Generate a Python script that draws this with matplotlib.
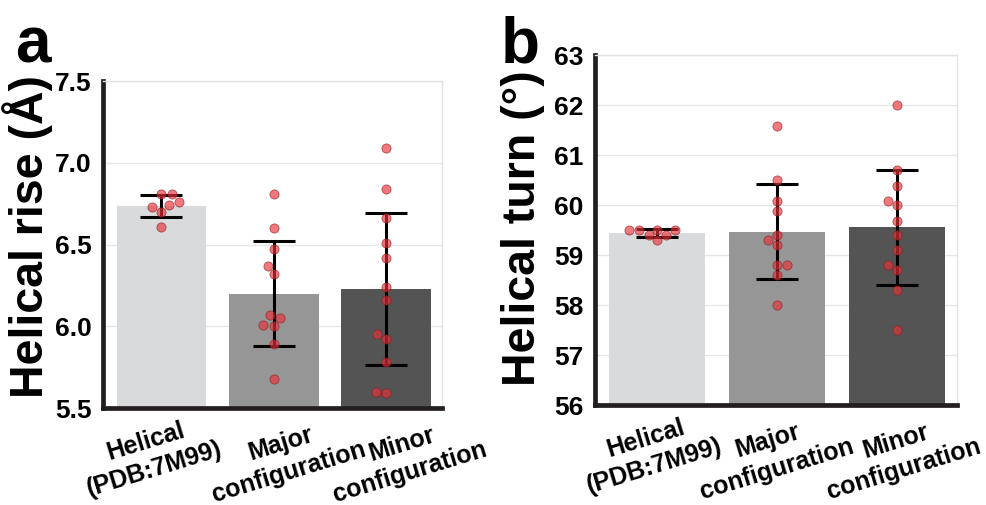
import matplotlib
matplotlib.use('Agg')
import matplotlib.pyplot as plt
import matplotlib.transforms as mtransforms
import numpy as np
import pandas as pd
import seaborn as sns

plt.rcParams['font.family'] = ['Liberation Sans', 'DejaVu Sans']
plt.rcParams['font.weight'] = 'bold'

categories = ['Helical\n(PDB:7M99)', 'Major\nconfiguration', 'Minor\nconfiguration']
bar_colors = ['#d9dadc', '#969696', '#535453']

# helical rise (A), individual points per group
rise_helical = [6.81, 6.81, 6.76, 6.73, 6.74, 6.70, 6.61]
rise_major = [6.81, 6.60, 6.47, 6.37, 6.32, 6.07, 6.05, 6.01, 6.00, 5.89, 5.68]
rise_minor = [7.09, 6.84, 6.66, 6.51, 6.42, 6.24, 6.16, 5.95, 5.92, 5.78, 5.60, 5.59]
rise_mean = [6.735, 6.20, 6.23]
rise_sd = [0.065, 0.32, 0.464]

# helical turn (deg)
turn_helical = [59.51, 59.51, 59.51, 59.51, 59.41, 59.41, 59.30]
turn_major = [61.59, 60.50, 60.09, 59.89, 59.40, 59.30, 59.20, 58.80, 58.80, 58.60, 58.00]
turn_minor = [62.0, 60.7, 60.39, 60.09, 60.0, 59.69, 59.4, 59.1, 58.8, 58.7, 58.3, 57.5]
turn_mean = [59.44, 59.47, 59.56]
turn_sd = [0.075, 0.955, 1.15]

rise_ticks = [5.5, 6.0, 6.5, 7.0, 7.5]
turn_ticks = [56, 57, 58, 59, 60, 61, 62, 63]


def panel(ax, groups, means, sds, ticks, fmt, ylabel, label_xy, shifts):
    x = np.arange(len(categories))
    ax.bar(x, means, width=0.8, color=bar_colors, zorder=1)
    ax.errorbar(x, means, yerr=sds, fmt='none', ecolor='black', elinewidth=2.2,
                capsize=15, capthick=2.2, zorder=2)
    df = pd.DataFrame({'group': np.repeat(categories, [len(g) for g in groups]),
                       'value': np.concatenate(groups)})
    sns.swarmplot(data=df, x='group', y='value', order=categories, color='#e8313a',
                  alpha=0.65, size=6.6, edgecolor='#8b1a1a', linewidth=0.6,
                  ax=ax, zorder=3)
    ax.set_xlim(-0.52, 2.5)
    ax.set_ylim(ticks[0], ticks[-1])
    ax.set_yticks(ticks)
    ax.set_yticklabels([fmt % t for t in ticks], fontsize=19, fontweight='bold')
    ax.set_xticks(x)
    ax.set_xticklabels(categories, fontsize=18, fontweight='bold', rotation=17,
                       ha='center', linespacing=1.25)
    ax.tick_params(axis='both', length=0)
    ax.tick_params(axis='y', pad=8)
    ax.tick_params(axis='x', pad=1)
    # nudge the rotated labels sideways like the original layout
    for lab, dx in zip(ax.get_xticklabels(), shifts):
        lab.set_transform(lab.get_transform() +
                          mtransforms.ScaledTranslation(dx / 100, 0, ax.figure.dpi_scale_trans))
    ax.yaxis.grid(True, color='#e6e6e6', linewidth=1)
    ax.set_axisbelow(True)
    ax.set_xlabel('')
    ax.set_ylabel(ylabel, fontsize=33.5, fontweight='bold')
    ax.yaxis.set_label_coords(*label_xy)
    for s in ['top', 'right']:
        ax.spines[s].set_color('#e3e3e3')
        ax.spines[s].set_linewidth(1)
    for s in ['left', 'bottom']:
        ax.spines[s].set_color('#231f20')
        ax.spines[s].set_linewidth(3.4)


fig = plt.figure(figsize=(9.86, 5.05), dpi=100)
ax1 = fig.add_axes([0.1045, 0.192, 0.3438, 0.6475])
ax2 = fig.add_axes([0.6034, 0.198, 0.3671, 0.693])

panel(ax1, [rise_helical, rise_major, rise_minor], rise_mean, rise_sd,
      rise_ticks, '%.1f', 'Helical rise (\u00c5)', (-0.148, 0.525), (-11, 11, 20))
panel(ax2, [turn_helical, turn_major, turn_minor], turn_mean, turn_sd,
      turn_ticks, '%d', 'Helical turn (\u00b0)', (-0.137, 0.505), (-7, -5, 3))

fig.text(0.015, 0.877, 'a', fontsize=46, fontweight='bold')
fig.text(0.508, 0.877, 'b', fontsize=46, fontweight='bold')

fig.savefig('out.png', dpi=100)
